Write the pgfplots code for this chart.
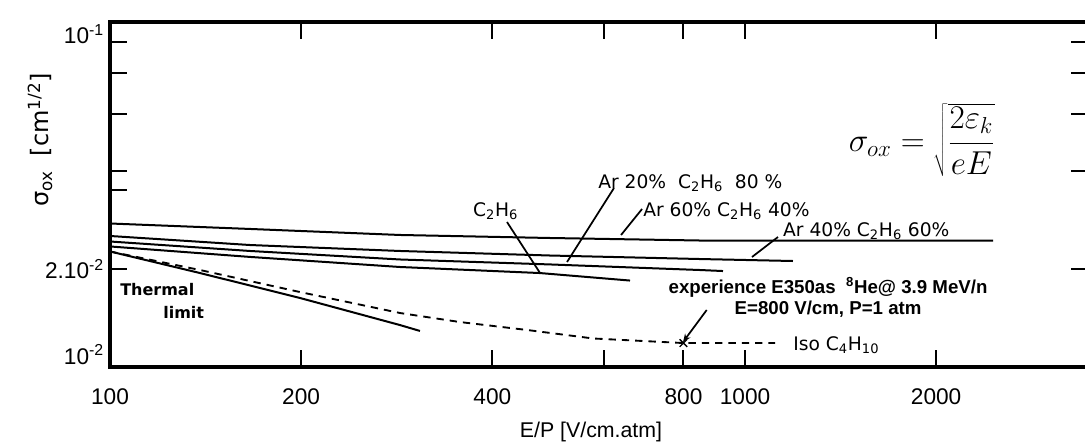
\documentclass[border=0pt]{standalone}
\usepackage{fontspec}
\setmainfont{Liberation Sans}
\newfontfamily\hand{DejaVu Sans}
\usepackage{pgfplots}
\pgfplotsset{compat=1.18}
\usetikzlibrary{calc,arrows.meta}

\begin{document}
\begin{tikzpicture}
\begin{axis}[
  scale only axis,
  width=733.5pt, height=258.75pt,
  xmode=log, ymode=log,
  xmin=100, xmax=3469,
  ymin=0.01, ymax=0.1152,
  axis line style={line width=3.6pt},
  xtick={100,200,400,600,800,1000,2000},
  xticklabels={100,200,400,,800,1000,2000},
  ytick={0.01,0.02,0.04,0.06,0.08,0.1},
  yticklabels={\raisebox{2pt}[0pt][0pt]{10\textsuperscript{-2}},2.10\textsuperscript{-2},,,,\raisebox{-1.5pt}[0pt][0pt]{10\textsuperscript{-1}}},
  xminorticks=false, yminorticks=false,
  major tick length=12.75pt,
  tick style={black, line width=1.5pt},
  tick align=inside,
  xticklabel style={font=\fontsize{17}{20}\selectfont, yshift=-13pt},
  yticklabel style={font=\fontsize{17}{20}\selectfont, xshift=-1pt},
  clip=false,
]
% top line (Ar 60% C2H6 40%)
\addplot[black, line width=1.5pt] coordinates {(100,0.02764) (166.2,0.02659) (286.2,0.02548) (493.1,0.02494) (849.6,0.02450) (2458,0.02450)};
% Ar 40% C2H6 60%
\addplot[black, line width=1.5pt] coordinates {(100,0.02530) (166.2,0.02373) (286.2,0.02275) (493.1,0.02203) (849.6,0.02149) (1190,0.02119)};
% Ar 20% C2H6 80%
\addplot[black, line width=1.5pt] coordinates {(100,0.02433) (166.2,0.02275) (286.2,0.02142) (493.1,0.02068) (849.6,0.01988) (923.3,0.01974)};
% C2H6
\addplot[black, line width=1.5pt] coordinates {(100,0.02349) (166.2,0.02181) (286.2,0.02031) (475.5,0.01946) (659.1,0.01845)};
% thermal limit
\addplot[black, line width=1.5pt] coordinates {(100,0.02267) (138.6,0.01946) (199.1,0.01631) (286.2,0.01346) (307.7,0.01291)};
% Iso C4H10 (dashed)
\addplot[black, line width=1.4pt, dash pattern=on 5.5pt off 4.5pt] coordinates {(100,0.02267) (138.6,0.01988) (199.1,0.01701) (286.2,0.01466) (355.8,0.01375) (453.6,0.01300) (576.4,0.01224) (800,0.01185) (1115,0.01185)};
% experiment point
\addplot[only marks, mark=x, mark size=4pt, black, line width=1pt] coordinates {(800,0.01185)};

% extra left tick
\draw[line width=1.5pt] (axis cs:100,0.035) -- ++(12.75pt,0pt);

% annotations
\node[anchor=west, font=\hand\fontsize{14}{16}\selectfont, inner sep=0] at (rel axis cs:0.499,0.533) {Ar 20\%\ \ C\textsubscript{2}H\textsubscript{6}\ \ 80 \%};
\node[anchor=west, font=\hand\fontsize{14}{16}\selectfont, inner sep=0] at (rel axis cs:0.371,0.452) {C\textsubscript{2}H\textsubscript{6}};
\node[anchor=west, font=\hand\fontsize{14}{16}\selectfont, inner sep=0] at (rel axis cs:0.545,0.452) {Ar 60\% C\textsubscript{2}H\textsubscript{6} 40\%};
\node[anchor=west, font=\hand\fontsize{14}{16}\selectfont, inner sep=0] at (rel axis cs:0.688,0.394) {Ar 40\% C\textsubscript{2}H\textsubscript{6} 60\%};
\draw[line width=1.3pt] (rel axis cs:0.5153,0.5188) -- (rel axis cs:0.4673,0.3043);
\draw[line width=1.3pt] (rel axis cs:0.4059,0.4203) -- (rel axis cs:0.4397,0.2725);
\draw[line width=1.3pt] (rel axis cs:0.5440,0.4580) -- (rel axis cs:0.5225,0.3826);
\draw[line width=1.3pt] (rel axis cs:0.6830,0.3768) -- (rel axis cs:0.6564,0.3188);
\draw[line width=1.3pt, -{Stealth[length=6pt,width=5pt]}] (rel axis cs:0.6101,0.1652) -- (rel axis cs:0.5859,0.0725);

\node[align=center, font=\bfseries\fontsize{14}{15.75}\selectfont, inner sep=0] at (rel axis cs:0.7342,0.2014) {experience E350as\ \ \textsuperscript{8}He@ 3.9 MeV/n\\E=800 V/cm, P=1 atm};
\node[anchor=west, font=\hand\fontsize{14}{16}\selectfont, inner sep=0] at (rel axis cs:0.6984,0.0638) {Iso C\textsubscript{4}H\textsubscript{10}};
\node[anchor=west, font=\hand\bfseries\fontsize{12}{14}\selectfont, inner sep=0] at (rel axis cs:0.0102,0.2232) {Thermal};
\node[anchor=west, font=\hand\bfseries\fontsize{12}{14}\selectfont, inner sep=0] at (rel axis cs:0.0542,0.1594) {limit};

\node at (rel axis cs:0.830,0.658) {\fontsize{24}{28}\selectfont $\sigma_{ox} = \sqrt{\displaystyle\frac{2\varepsilon_k}{eE}}$};

\node[font=\fontsize{16}{19}\selectfont] at (rel axis cs:0.4918,-0.188) {E/P [V/cm.atm]};
\node[rotate=90, font=\hand\fontsize{18}{21}\selectfont] at (rel axis cs:-0.0716,0.658) {σ\textsubscript{ox}\ \ [cm\textsuperscript{1/2}]};

\coordinate (ll) at (rel axis cs:0,0);
\coordinate (ur) at (rel axis cs:1,1);
\end{axis}
\pgfresetboundingbox
\path[use as bounding box] ($(ll)+(-82.5pt,-58.5pt)$) rectangle ($(ur)+(-2.25pt,16.5pt)$);
\end{tikzpicture}
\end{document}
